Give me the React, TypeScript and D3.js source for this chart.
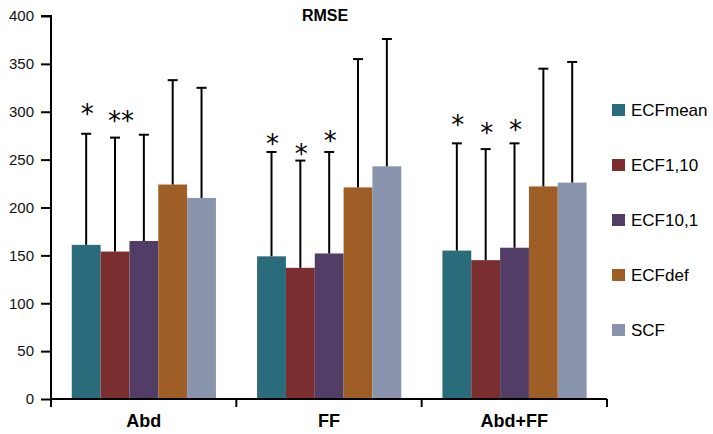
import React, { useEffect, useRef } from 'react';
import * as d3 from 'd3';

const categories = ['Abd', 'FF', 'Abd+FF'];
const seriesNames = ['ECFmean', 'ECF1,10', 'ECF10,1', 'ECFdef', 'SCF'];
const seriesColors = ['#2B6C7C', '#7B2E30', '#513D66', '#A05E27', '#8A95AD'];

// mean RMSE per category, one array per series
const ecfMean = [161, 149, 155];
const ecf110 = [154, 137, 145];
const ecf101 = [165, 152, 158];
const ecfDef = [224, 221, 222];
const scf = [210, 243, 226];

// top of the error bar (mean + sd)
const ecfMeanErr = [277, 258, 267];
const ecf110Err = [273, 249, 261];
const ecf101Err = [276, 258, 267];
const ecfDefErr = [333, 355, 345];
const scfErr = [325, 376, 352];

// significance marks, per category per series, and the value they sit at
const starLabels = [
  ['*', '**', '', '', ''],
  ['*', '*', '*', '', ''],
  ['*', '*', '*', '', ''],
];
const starValues = [
  [304, 297, 0, 0, 0],
  [273, 262, 276, 0, 0],
  [292, 284, 287, 0, 0],
];

const yTicks = [0, 50, 100, 150, 200, 250, 300, 350, 400];

const values = [ecfMean, ecf110, ecf101, ecfDef, scf];
const errors = [ecfMeanErr, ecf110Err, ecf101Err, ecfDefErr, scfErr];

const W = 713;
const H = 434;

const Chart = () => {
  const svgRef = useRef<SVGSVGElement>(null);

  useEffect(() => {
    const svg = d3.select(svgRef.current);
    svg.selectAll('*').remove();

    const font = '"Liberation Sans", Arial, sans-serif';
    const left = 51;
    const right = 607;
    const top = 16;
    const bottom = 399;

    const x0 = d3.scaleBand<string>().domain(categories).range([left, right]).padding(0);
    const bw = x0.bandwidth();
    const x1 = d3.scaleBand<string>().domain(seriesNames).range([bw * 0.112, bw * 0.89]).padding(0);
    const y = d3.scaleLinear().domain([0, 400]).range([bottom, top]);

    // title
    svg.append('text')
      .attr('x', 325).attr('y', 21)
      .attr('text-anchor', 'middle')
      .attr('font-family', font).attr('font-weight', 'bold').attr('font-size', 16)
      .text('RMSE');

    const groups = svg.append('g').selectAll('g')
      .data(categories)
      .join('g')
      .attr('transform', (d) => `translate(${x0(d)},0)`);

    // bars
    groups.each(function (cat, ci) {
      const g = d3.select(this);
      seriesNames.forEach((s, si) => {
        const v = values[si][ci];
        g.append('rect')
          .attr('x', x1(s)!).attr('y', y(v))
          .attr('width', x1.bandwidth()).attr('height', y(0) - y(v))
          .attr('fill', seriesColors[si]);
      });
    });

    // error bars and stars on top
    groups.each(function (cat, ci) {
      const g = d3.select(this);
      seriesNames.forEach((s, si) => {
        const v = values[si][ci];
        const e = errors[si][ci];
        const cx = x1(s)! + x1.bandwidth() / 2;
        g.append('line')
          .attr('x1', cx).attr('x2', cx).attr('y1', y(v)).attr('y2', y(e))
          .attr('stroke', '#000').attr('stroke-width', 2);
        g.append('line')
          .attr('x1', cx - 5).attr('x2', cx + 5).attr('y1', y(e)).attr('y2', y(e))
          .attr('stroke', '#000').attr('stroke-width', 2);
        const lab = starLabels[ci][si];
        if (lab) {
          g.append('text')
            .attr('x', lab.length > 1 ? cx + 6 : cx + 1)
            .attr('y', y(starValues[ci][si]) + 15)
            .attr('text-anchor', 'middle')
            .attr('font-family', '"DejaVu Sans", sans-serif').attr('font-size', 26)
            .text(lab);
        }
      });
    });

    // y axis
    const yAxis = svg.append('g')
      .attr('transform', `translate(${left},0)`)
      .call(d3.axisLeft(y).tickValues(yTicks).tickSize(10).tickPadding(7));
    yAxis.selectAll('path,line').attr('stroke', '#000').attr('stroke-width', 2);
    yAxis.select('path').attr('d', `M-10,${top}H0V${bottom}`);
    yAxis.selectAll('text')
      .attr('font-family', font).attr('font-size', 15).attr('fill', '#111');

    // x axis
    const xAxis = svg.append('g')
      .attr('transform', `translate(0,${bottom})`);
    xAxis.append('line')
      .attr('x1', left).attr('x2', right).attr('y1', 0).attr('y2', 0)
      .attr('stroke', '#000').attr('stroke-width', 2);
    const edges = [...categories.map((c) => x0(c)!), right];
    xAxis.selectAll('line.tick')
      .data(edges)
      .join('line')
      .attr('class', 'tick')
      .attr('x1', (d) => d).attr('x2', (d) => d).attr('y1', 0).attr('y2', 8)
      .attr('stroke', '#000').attr('stroke-width', 2);
    xAxis.selectAll('text')
      .data(categories)
      .join('text')
      .attr('x', (d) => x0(d)! + bw / 2)
      .attr('y', 28)
      .attr('text-anchor', 'middle')
      .attr('font-family', font).attr('font-weight', 'bold').attr('font-size', 18)
      .text((d) => d);

    // legend
    const legend = svg.append('g').attr('transform', 'translate(612,110)');
    const item = legend.selectAll('g')
      .data(seriesNames)
      .join('g')
      .attr('transform', (d, i) => `translate(0,${i * 55})`);
    item.append('rect')
      .attr('x', 0).attr('y', -6).attr('width', 13).attr('height', 12)
      .attr('fill', (d, i) => seriesColors[i]);
    item.append('text')
      .attr('x', 19).attr('y', 6)
      .attr('font-family', font).attr('font-size', 17)
      .text((d) => d);
  }, []);

  return <svg ref={svgRef} width={W} height={H} style={{ position: 'absolute', left: 0, top: 0 }} />;
};

export default function App() {
  return <Chart />;
}
